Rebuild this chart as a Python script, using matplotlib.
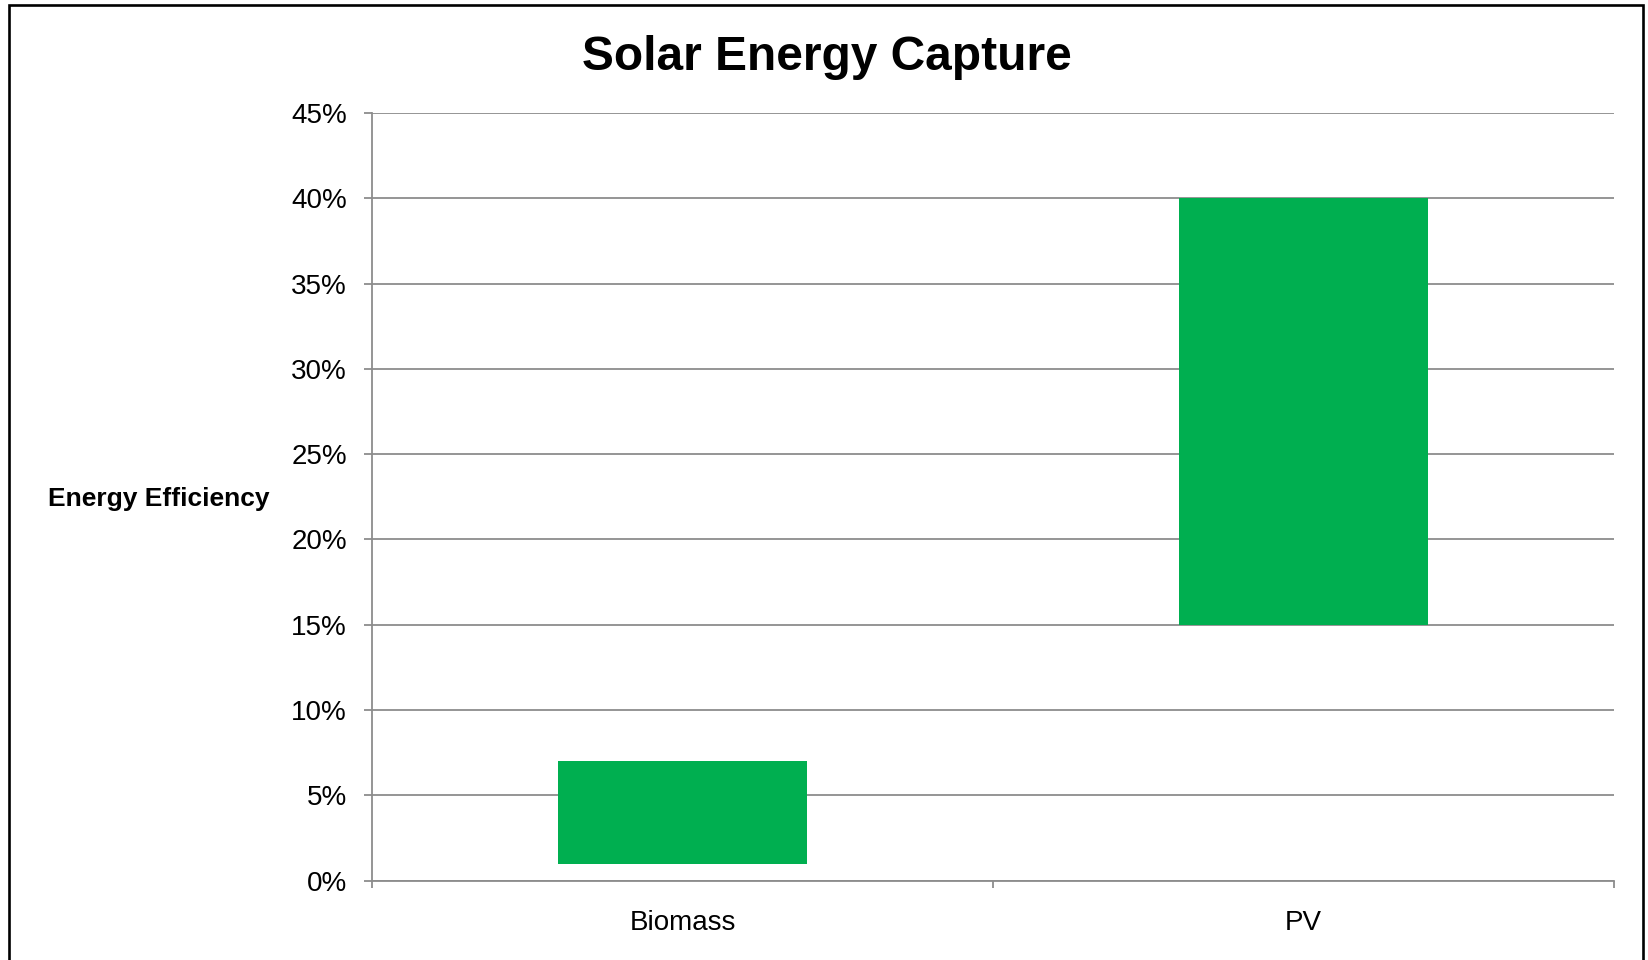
import matplotlib
matplotlib.use('Agg')
import matplotlib.pyplot as plt
from matplotlib.patches import Rectangle
from matplotlib.ticker import PercentFormatter, FixedLocator

# data: floating bars (low / high efficiency)
categories = ['Biomass', 'PV']
low_vals = [0.01, 0.15]
high_vals = [0.07, 0.40]
y_ticks = [0.00, 0.05, 0.10, 0.15, 0.20, 0.25, 0.30, 0.35, 0.40, 0.45]

plt.rcParams['font.family'] = ['Liberation Sans', 'DejaVu Sans']

fig = plt.figure(figsize=(16.49, 9.6), dpi=100)
ax = fig.add_axes([0.2256, 0.0826, 0.7532, 0.7997])

grid_col = '#8c8c8c'
x = list(range(len(categories)))
heights = [h - l for h, l in zip(high_vals, low_vals)]
ax.bar(x, heights, bottom=low_vals, width=0.4, color='#00AF50', zorder=3)

ax.set_xlim(-0.5, len(categories) - 0.5)
ax.set_ylim(0, 0.45)
ax.set_yticks(y_ticks)
ax.yaxis.set_major_formatter(PercentFormatter(1.0, decimals=0))
ax.grid(axis='y', color=grid_col, linewidth=1.3, zorder=0)

ax.set_xticks(x)
ax.set_xticklabels(categories)
ax.xaxis.set_minor_locator(FixedLocator([-0.5, 0.5, 1.5]))
ax.tick_params(axis='x', which='major', length=0, pad=21, labelsize=20)
ax.tick_params(axis='x', which='minor', length=5, width=1.3, color=grid_col, direction='out')
ax.tick_params(axis='y', length=6, width=1.3, color=grid_col, pad=12, labelsize=20)

for s in ['top', 'right']:
    ax.spines[s].set_visible(False)
for s in ['left', 'bottom']:
    ax.spines[s].set_color(grid_col)
    ax.spines[s].set_linewidth(1.3)

fig.text(0.5015, 0.9271, 'Solar Energy Capture', ha='center', va='baseline',
         fontsize=34.5, fontweight='bold')
fig.text(0.0291, 0.4729, 'Energy Efficiency', ha='left', va='baseline',
         fontsize=19, fontweight='bold')

# outer chart frame
fig.patches.append(Rectangle((0.00546, -0.02), 0.9909, 1.01479, transform=fig.transFigure,
                             fill=False, edgecolor='black', linewidth=1.9))

plt.savefig('out.png', dpi=100)
